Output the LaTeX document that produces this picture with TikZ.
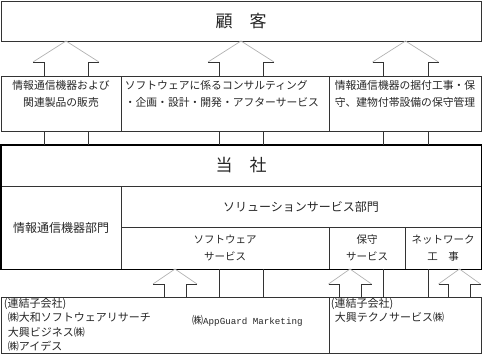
\documentclass[tikz,border=0pt]{standalone}
\usepackage{fontspec}
\setmainfont{Noto Sans CJK JP}
\newfontfamily\latinmono{Liberation Mono}

% block arrow: centre x, tip y, head base y, shaft end y, head half width, shaft half width
\newcommand\blockarrow[6]{%
  \draw[headline] ({#1-#5},#3) -- (#1,#2) -- ({#1+#5},#3);
  \draw[frame] ({#1-#5},#3) -- ({#1-#6},#3) -- ({#1-#6},#4);
  \draw[frame] ({#1+#5},#3) -- ({#1+#6},#3) -- ({#1+#6},#4);
}

\begin{document}
\begin{tikzpicture}[
  x=1pt, y=-1pt,
  frame/.style={draw=black!80, line width=0.8pt},
  headline/.style={draw=black!30, line width=0.7pt},
  cell/.style={frame, rectangle, inner sep=0pt, align=center, text=black!85},
  body/.style={font=\fontsize{10.8}{16.5}\selectfont, text=black!85, align=center, inner sep=0pt},
  small/.style={font=\fontsize{10.5}{17}\selectfont},
  big/.style={font=\fontsize{17}{20}\selectfont}
]
\useasboundingbox (0,0) rectangle (482,354);

% customers
\node[cell, big, minimum width=480pt, minimum height=40pt] (customer) at (241,21) {顧\quad 客};

% business lines
\node[cell, minimum width=120pt, minimum height=55pt] (sales) at (61,103.5) {};
\node[cell, minimum width=208pt, minimum height=55pt] (consult) at (225,103.5) {};
\node[cell, minimum width=152pt, minimum height=55pt] (install) at (405,103.5) {};
\node[body, anchor=north] at ([yshift=-5pt]sales.north) {情報通信機器および\\関連製品の販売};
\node[body, align=left, anchor=north west] at ([xshift=4pt,yshift=-5pt]consult.north west) {ソフトウェアに係るコンサルティング\\・企画・設計・開発・アフターサービス};
\node[body, anchor=north] at ([yshift=-5pt]install.north) {情報通信機器の据付工事・保\\守、建物付帯設備の保守管理};

% company
\node[cell, big, minimum width=480pt, minimum height=41pt] (company) at (241,165.5) {当\quad 社};
\node[cell, font=\fontsize{12}{14}\selectfont, minimum width=120pt, minimum height=83pt] (devices) at (61,227.5) {情報通信機器部門};
\node[cell, font=\fontsize{12}{14}\selectfont, minimum width=360pt, minimum height=41pt] (solution) at (301,206.5) {ソリューションサービス部門};
\node[cell, small, minimum width=208pt, minimum height=42pt] (software) at (225,248) {ソフトウェア\\サービス};
\node[cell, small, minimum width=76pt, minimum height=42pt] (upkeep) at (367,248) {保守\\サービス};
\node[cell, small, minimum width=76pt, minimum height=42pt] (network) at (443,248) {ネットワーク\\工\quad 事};
\draw[draw=black, line width=1.8pt] (company.north west) rectangle (network.south east);

% subsidiaries
\node[cell, minimum width=328pt, minimum height=56pt] (subsA) at (165,325) {};
\node[cell, minimum width=152pt, minimum height=56pt] (subsB) at (405,325) {};
\node[body, font=\fontsize{11}{14.5}\selectfont, align=left, anchor=north west] at ([xshift=3pt,yshift=-1pt]subsA.north west)
  {(連結子会社)\\\hspace*{4pt}㈱大和ソフトウェアリサーチ\\\hspace*{4pt}大興ビジネス㈱\\\hspace*{4pt}㈱アイデス};
\node[body, font=\fontsize{11}{14}\selectfont, anchor=west] at (192,321) {㈱{\latinmono\fontsize{9.2}{14}\selectfont AppGuard Marketing}};
\node[body, font=\fontsize{11}{14.5}\selectfont, align=left, anchor=north west] at ([xshift=2pt,yshift=-1pt]subsB.north west)
  {(連結子会社)\\\hspace*{4pt}大興テクノサービス㈱};

% arrows to customers
\blockarrow{66}{41}{62}{76}{33}{22}
\blockarrow{241}{41}{62}{76}{33}{22}
\blockarrow{405.5}{41}{62}{76}{33}{22.5}
\foreach \px in {44,88,219,263,383,428}
  \draw[frame] (\px,0 |- sales.south) -- (\px,0 |- company.north);
\foreach \px in {219,263,383,428}
  \draw[frame] (\px,0 |- software.south) -- (\px,0 |- subsA.north);

% arrows from subsidiaries
\blockarrow{175}{269}{284}{297}{22}{11}
\blockarrow{350}{269}{284}{297}{21.5}{11}
\blockarrow{459.5}{269}{284}{297}{21}{11}
\end{tikzpicture}
\end{document}
